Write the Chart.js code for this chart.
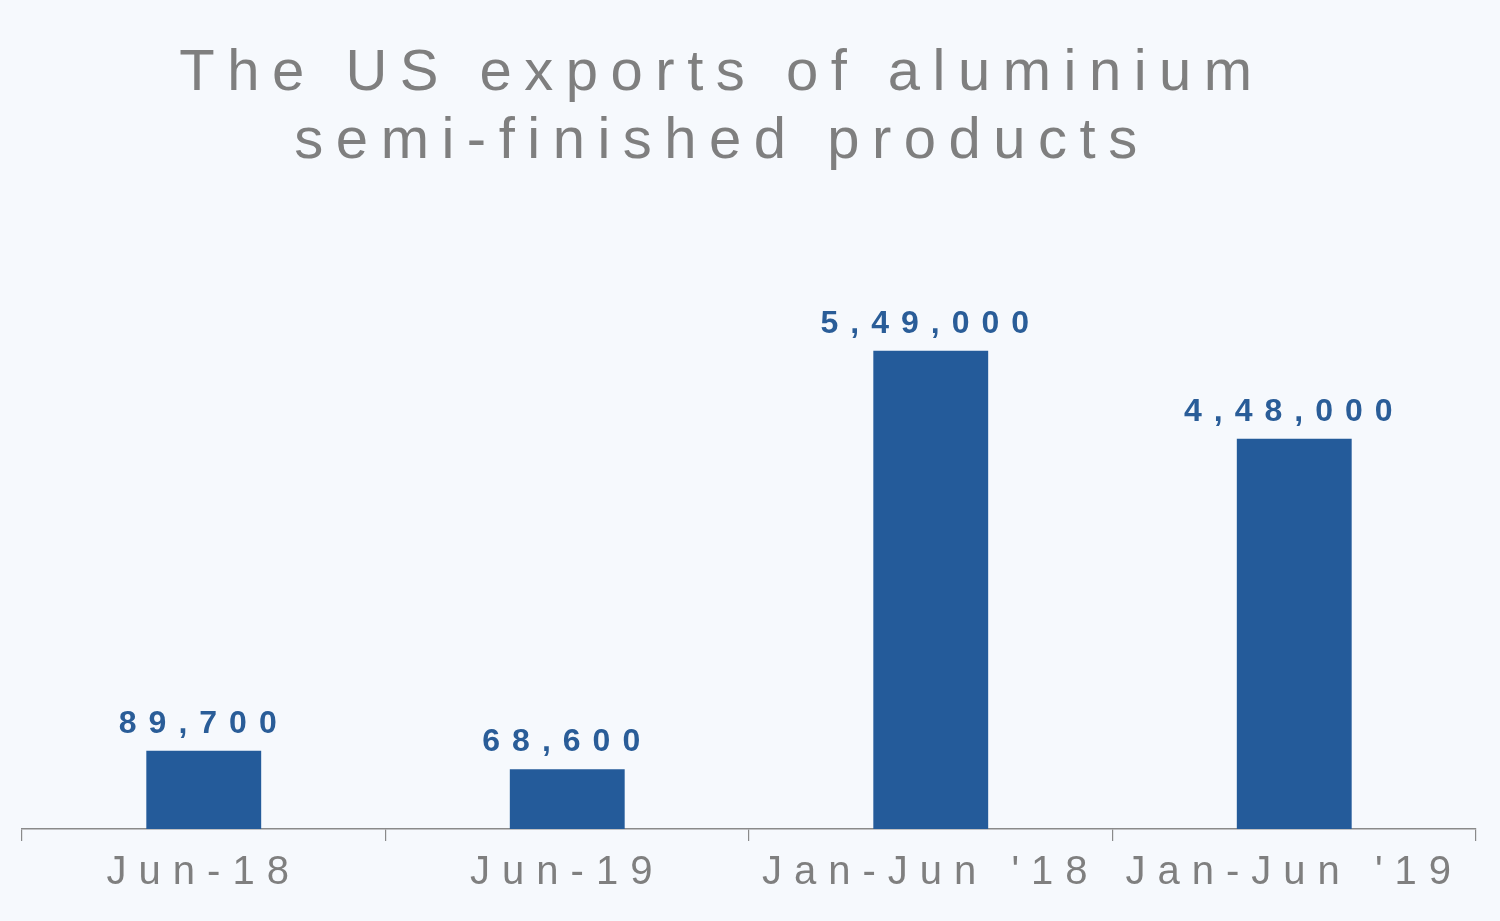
<!DOCTYPE html>
<html>
<head>
<meta charset="utf-8">
<script src="https://cdn.jsdelivr.net/npm/chart.js@4"></script>
<style>
  html, body { margin: 0; padding: 0; background: #f6f9fd; }
  #wrap { width: 1500px; height: 921px; }
</style>
</head>
<body>
<div id="wrap"><canvas id="grafico"></canvas></div>
<script>
// datos del grafico
const categorias = ["Jun-18", "Jun-19", "Jan-Jun '18", "Jan-Jun '19"];
const valores = [89700, 68600, 549000, 448000];
const titulo = ["The US exports of aluminium", "semi-finished products"];

const fuente = "'Liberation Sans', Arial, sans-serif";

// fondo, espaciado entre letras y titulo
const espaciado = {
  id: "espaciado",
  beforeUpdate(chart) { chart.ctx.letterSpacing = "12px"; },
  beforeLayout(chart) { chart.ctx.letterSpacing = "12px"; },
  beforeDraw(chart) {
    let ctx = chart.ctx;
    ctx.save();
    ctx.fillStyle = "#f6f9fd";
    ctx.fillRect(0, 0, chart.width, chart.height);
    ctx.restore();
    ctx.letterSpacing = "12px";
  },
  afterDraw(chart) {
    // titulo dibujado a mano (va un poco a la izquierda del centro)
    let ctx = chart.ctx;
    ctx.save();
    ctx.letterSpacing = "12.5px";
    ctx.font = "58px " + fuente;
    ctx.fillStyle = "#7f7f7f";
    ctx.textAlign = "center";
    ctx.textBaseline = "alphabetic";
    ctx.fillText(titulo[0], chart.width / 2 - 28, 90);
    ctx.fillText(titulo[1], chart.width / 2 - 28, 158);
    ctx.restore();
  }
};

// etiquetas encima de cada barra
const etiquetas = {
  id: "etiquetas",
  afterDatasetsDraw(chart) {
    let ctx = chart.ctx;
    let meta = chart.getDatasetMeta(0);
    ctx.save();
    ctx.letterSpacing = "12px";
    ctx.font = "bold 32px " + fuente;
    ctx.fillStyle = "#2a5d98";
    ctx.textAlign = "center";
    ctx.textBaseline = "alphabetic";
    meta.data.forEach((bar, i) => {
      let txt = valores[i].toLocaleString("en-IN");
      ctx.fillText(txt, bar.x, bar.y - 18);
    });
    ctx.restore();
  }
};

let cfg = {
  type: "bar",
  data: {
    labels: categorias,
    datasets: [{
      data: valores,
      backgroundColor: "#245b9a",
      categoryPercentage: 1,
      barPercentage: 0.316
    }]
  },
  options: {
    responsive: true,
    maintainAspectRatio: false,
    animation: false,
    layout: { padding: { left: 22, right: 24, top: 200, bottom: 16 } },
    plugins: {
      legend: { display: false },
      tooltip: { enabled: false },
      title: { display: false }
    },
    scales: {
      y: { display: false, min: 0, max: 722000 },
      x: {
        offset: true,
        grid: { offset: true, drawOnChartArea: false, drawTicks: true, tickLength: 12, color: "#8a8a8a", lineWidth: 1.2 },
        border: { display: true, color: "#8a8a8a", width: 1.5 },
        ticks: { color: "#7f7f7f", font: { family: fuente, size: 40 }, padding: 8 }
      }
    }
  },
  plugins: [espaciado, etiquetas]
};

let draw = new Chart(document.getElementById("grafico"), cfg);
</script>
</body>
</html>
